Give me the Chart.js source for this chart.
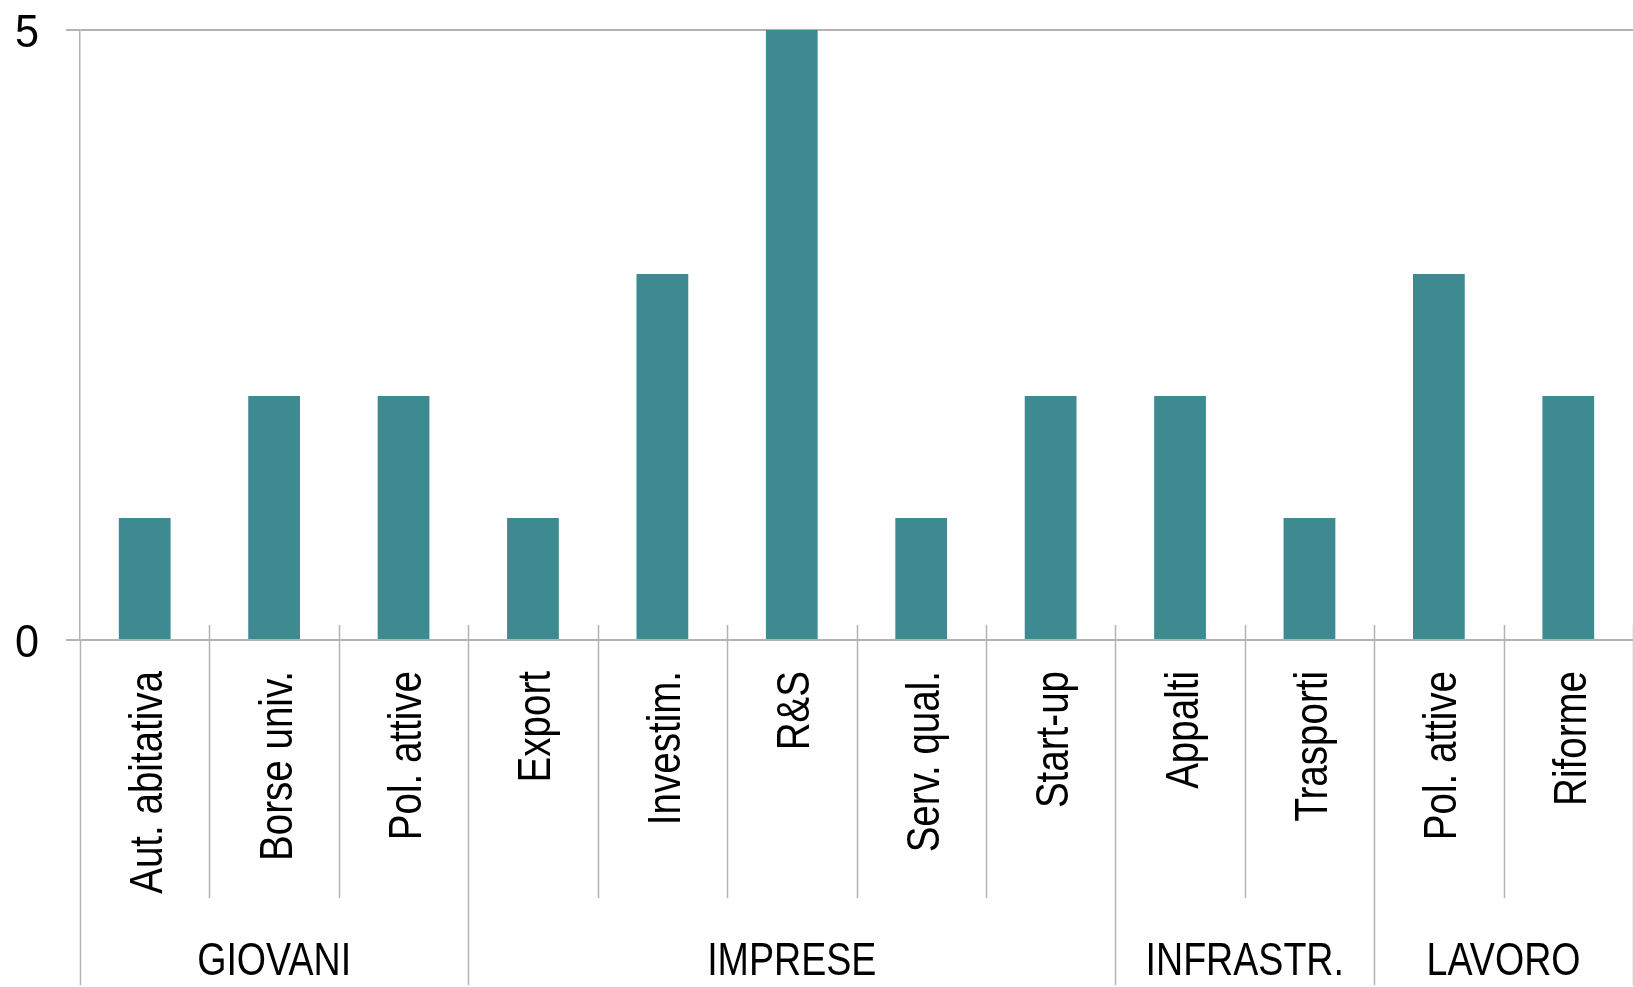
<!DOCTYPE html>
<html><head><meta charset="utf-8">
<script src="https://cdn.jsdelivr.net/npm/chart.js@4/dist/chart.umd.min.js"></script>
<style>html,body{margin:0;padding:0;background:#fff;}#wrap{width:1633px;height:987px;}</style>
</head><body><div id="wrap"><canvas id="c" width="1633" height="987"></canvas></div>
<script>
const categories = ["Aut. abitativa","Borse univ.","Pol. attive","Export","Investim.","R&S","Serv. qual.","Start-up","Appalti","Trasporti","Pol. attive","Riforme"];
const groups = ["GIOVANI","IMPRESE","INFRASTR.","LAVORO"];
const groupSizes = [3,5,2,2];
const values = [1,2,2,1,3,5,1,2,2,1,3,2];
const yTicks = [0,5];

const FONT = "'Liberation Sans Narrow','Arial Narrow','Liberation Sans',Arial,sans-serif";
const LINE = '#b3b3b3';
const FS = 47;

// draws text condensed along its own direction (emulates a narrow face)
function narrowText(ctx, text, x, y, rot, squeeze, align) {
  ctx.save();
  ctx.translate(x, y);
  ctx.rotate(rot);
  ctx.scale(squeeze, 1);
  ctx.textAlign = align;
  ctx.textBaseline = 'alphabetic';
  ctx.fillText(text, 0, 0);
  ctx.restore();
}

const groupPlugin = {
  id: 'groups',
  afterDraw(chart) {
    const ctx = chart.ctx, x = chart.scales.x, y = chart.scales.y, area = chart.chartArea;
    const n = categories.length;
    const boundary = i => i === 0 ? area.left : (i === n ? area.right : (x.getPixelForValue(i - 1) + x.getPixelForValue(i)) / 2);
    const groupStarts = new Set();
    let acc = 0; groupStarts.add(0);
    groupSizes.forEach(s => { acc += s; groupStarts.add(acc); });
    const top = x.top - 15;
    const midBottom = x.top + 258;
    const bottom = x.bottom - 2;
    ctx.save();
    ctx.strokeStyle = LINE; ctx.lineWidth = 1.5;
    for (let i = 0; i <= n; i++) {
      const px = Math.round(boundary(i)) + 0.5;
      ctx.beginPath();
      ctx.moveTo(px, i === 0 ? x.top : top);
      ctx.lineTo(px, groupStarts.has(i) ? bottom : midBottom);
      ctx.stroke();
    }
    ctx.fillStyle = '#000';
    ctx.font = FS + 'px ' + FONT;
    // category labels (rotated)
    categories.forEach((c, i) => {
      const cx = x.getPixelForValue(i);
      narrowText(ctx, c, cx + 17.5, x.top + 31, -Math.PI / 2, 0.82, 'right');
    });
    // group labels
    let start = 0;
    groups.forEach((g, k) => {
      const end = start + groupSizes[k];
      const cx = (boundary(start) + boundary(end)) / 2;
      narrowText(ctx, g, cx, x.bottom - 12, 0, 0.8, 'center');
      start = end;
    });
    // y tick labels
    yTicks.forEach(v => {
      narrowText(ctx, String(v), y.right - 41, y.getPixelForValue(v) + 17, 0, 0.92, 'right');
    });
    ctx.restore();
  }
};

new Chart(document.getElementById('c'), {
  type: 'bar',
  data: {
    labels: categories,
    datasets: [{ data: values, backgroundColor: '#3d8b91', borderWidth: 0, barPercentage: 0.4, categoryPercentage: 1.0 }]
  },
  options: {
    responsive: false,
    animation: false,
    layout: { padding: { top: 30, right: 0, bottom: 0, left: 0 } },
    plugins: { legend: { display: false }, tooltip: { enabled: false } },
    scales: {
      x: {
        grid: { display: false, drawTicks: false },
        border: { display: false },
        ticks: { display: false, autoSkip: false },
        afterFit(scale) { scale.height = 347; }
      },
      y: {
        min: 0, max: 5,
        afterBuildTicks(scale) { scale.ticks = yTicks.map(v => ({ value: v })); },
        grid: { color: LINE, lineWidth: 2, tickLength: 14, drawTicks: true },
        border: { display: true, color: LINE, width: 1.5 },
        ticks: { display: false },
        afterFit(scale) { scale.width = 80; }
      }
    }
  },
  plugins: [groupPlugin]
});
</script></body></html>
